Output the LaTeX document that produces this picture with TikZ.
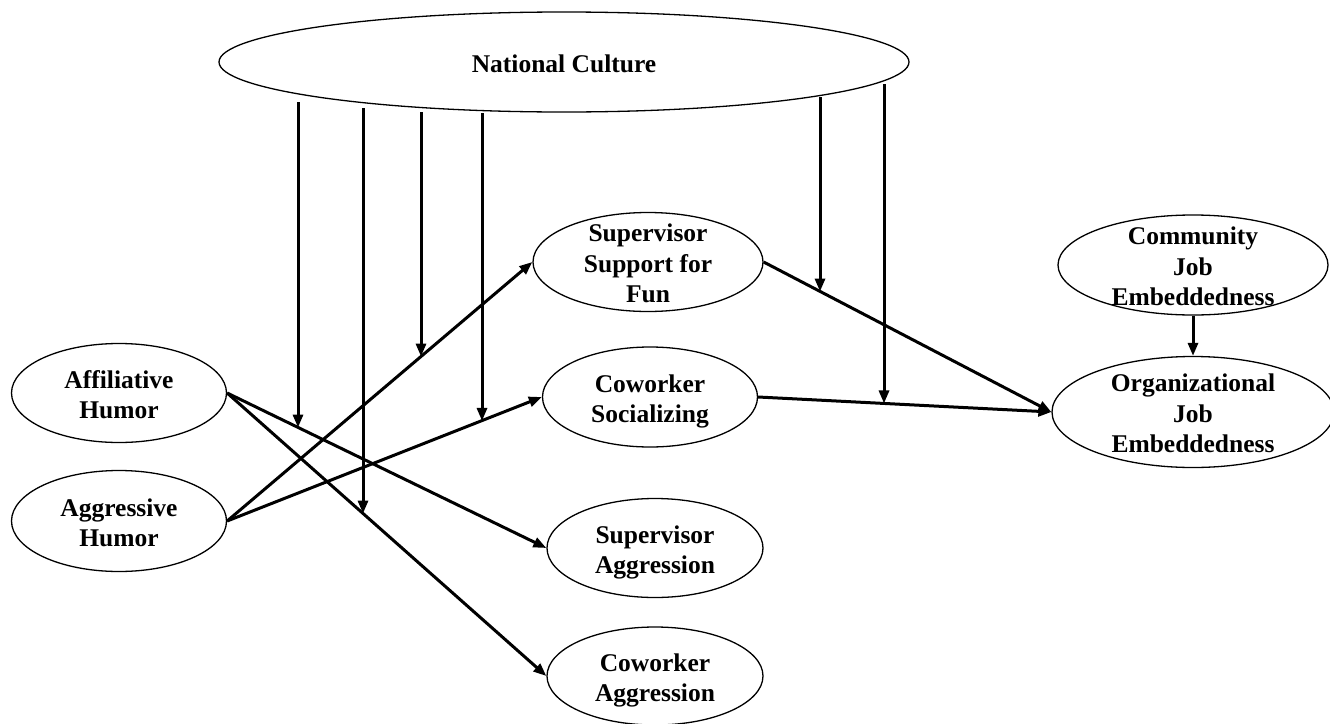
\documentclass[tikz,border=0pt]{standalone}
\usepackage{fontspec}
\setmainfont{Liberation Serif}
\usetikzlibrary{shapes.geometric,arrows.meta}
\newcommand{\ctext}[1]{\smash{\makebox[0pt]{\raisebox{-10.6pt}{\begin{tabular}{@{}c@{}}#1\end{tabular}}}}}
\begin{document}
\begin{tikzpicture}[x=1pt,y=-1pt,
  var/.style={draw, ellipse, line width=1.3pt, inner sep=0pt, font=\fontsize{25.5}{30.5}\selectfont\bfseries},
  link/.style={line width=3pt, -{Triangle[length=13pt,width=10pt]}}]
\useasboundingbox (0,0) rectangle (1330,723);
\node[var, minimum width=690, minimum height=100] (nc) at (564,62) {\ctext{National Culture}};
\node[var, minimum width=215, minimum height=99] (aff) at (119,393) {\ctext{Affiliative\\Humor}};
\node[var, minimum width=215, minimum height=101] (agg) at (119,521) {\ctext{Aggressive\\Humor}};
\node[var, minimum width=230, minimum height=99] (ssf) at (648,262) {\ctext{Supervisor\\Support for\\Fun}};
\node[var, minimum width=215, minimum height=100] (cs) at (650,397) {\ctext{Coworker\\Socializing}};
\node[var, minimum width=216, minimum height=99] (sa) at (655,548) {\ctext{Supervisor\\Aggression}};
\node[var, minimum width=216, minimum height=98] (ca) at (655,676) {\ctext{Coworker\\Aggression}};
\node[var, minimum width=270, minimum height=100] (cje) at (1193,265) {\ctext{Community\\Job\\Embeddedness}};
\node[var, minimum width=282, minimum height=111] (oje) at (1193,412) {\ctext{Organizational\\Job\\Embeddedness}};
\draw[link] (aff.east) -- (sa.west);
\draw[link] (aff.east) -- (ca.west);
\draw[link] (agg.east) -- (ssf.west);
\draw[link] (agg.east) -- (cs.west);
\draw[link] (ssf.east) -- (oje.west);
\draw[link] (cs.east) -- (oje.west);
\draw[link] (cje.south) -- (oje.north);
\path (aff.east) -- (sa.west) coordinate[pos=0.223] (m1);
\path (aff.east) -- (ca.west) coordinate[pos=0.426] (m2);
\path (agg.east) -- (ssf.west) coordinate[pos=0.635] (m3);
\path (agg.east) -- (cs.west) coordinate[pos=0.807] (m4);
\path (ssf.east) -- (oje.west) coordinate[pos=0.197] (m5);
\path (cs.east) -- (oje.west) coordinate[pos=0.43] (m6);
\coordinate (n1) at (298,102);
\coordinate (n2) at (363,108);
\coordinate (n3) at (421,112);
\coordinate (n4) at (482,113);
\coordinate (n5) at (820,97);
\coordinate (n6) at (884,84);
\draw[link] (n1) -- (n1 |- m1);
\draw[link] (n2) -- (n2 |- m2);
\draw[link] (n3) -- (n3 |- m3);
\draw[link] (n4) -- (n4 |- m4);
\draw[link] (n5) -- (n5 |- m5);
\draw[link] (n6) -- (n6 |- m6);
\end{tikzpicture}
\end{document}
